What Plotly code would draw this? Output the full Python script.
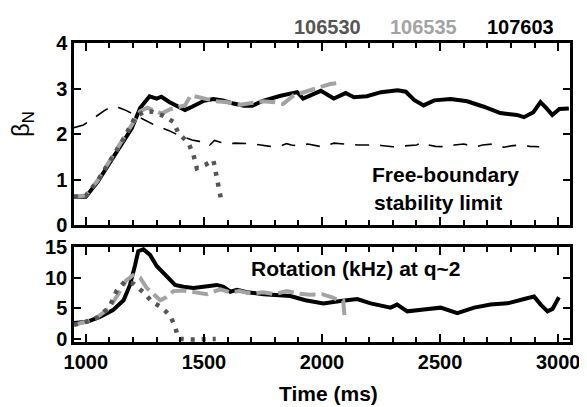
import plotly.graph_objects as go

# ---------------- data ----------------
# Top panel: beta_N vs time (ms)
t_107603 = [950, 1000, 1050, 1100, 1150, 1195, 1230, 1270, 1300, 1320, 1355, 1385, 1420, 1450, 1500,
            1540, 1580, 1625, 1670, 1705, 1750, 1825, 1895, 1920, 1995, 2050, 2100, 2135, 2190, 2250,
            2320, 2355, 2390, 2430, 2475, 2545, 2615, 2685, 2755, 2825, 2855, 2895, 2925, 2950, 2975,
            3005, 3045]
b_107603 = [0.62, 0.62, 0.95, 1.35, 1.78, 2.13, 2.57, 2.83, 2.78, 2.82, 2.7, 2.63, 2.53, 2.6, 2.73,
            2.77, 2.74, 2.67, 2.62, 2.62, 2.73, 2.84, 2.92, 2.78, 2.95, 2.78, 2.9, 2.81, 2.83, 2.92,
            2.96, 2.93, 2.75, 2.63, 2.74, 2.77, 2.72, 2.6, 2.46, 2.42, 2.37, 2.48, 2.7, 2.57, 2.42,
            2.55, 2.56]

t_106535 = [950, 1000, 1050, 1100, 1150, 1200, 1230, 1260, 1295, 1320, 1360, 1420, 1445, 1500, 1550,
            1600, 1650, 1700, 1750, 1800, 1835, 1880, 1920, 1960, 2000, 2035, 2068]
b_106535 = [0.62, 0.65, 0.98, 1.4, 1.82, 2.25, 2.5, 2.58, 2.5, 2.45, 2.55, 2.63, 2.85, 2.78, 2.72,
            2.7, 2.64, 2.68, 2.72, 2.7, 2.66, 2.85, 2.92, 2.98, 3.05, 3.1, 3.12]

t_106530 = [950, 1000, 1050, 1100, 1150, 1210, 1250, 1280, 1330, 1370, 1392, 1435, 1456, 1470, 1505,
            1540, 1560, 1575]
b_106530 = [0.62, 0.64, 0.97, 1.38, 1.8, 2.38, 2.5, 2.49, 2.4, 2.27, 2.02, 1.8, 1.54, 1.25, 1.32,
            1.43, 0.88, 0.5]

t_limit = [950, 990, 1020, 1050, 1080, 1110, 1140, 1170, 1200, 1230, 1260, 1290, 1320, 1350, 1390,
           1420, 1450, 1480, 1510, 1525, 1545, 1570, 1600, 1630, 1660, 1700, 1740, 1780, 1820, 1850,
           1870, 1900, 1940, 1970, 2000, 2050, 2080, 2110, 2150, 2200, 2250, 2300, 2350, 2400, 2430,
           2450, 2480, 2530, 2560, 2600, 2650, 2680, 2720, 2770, 2800, 2840, 2880, 2920]
b_limit = [2.14, 2.2, 2.3, 2.42, 2.52, 2.6, 2.58, 2.52, 2.44, 2.36, 2.28, 2.2, 2.14, 2.08, 1.98,
           1.92, 1.87, 1.84, 1.84, 1.76, 1.86, 1.82, 1.78, 1.8, 1.8, 1.79, 1.76, 1.73, 1.73, 1.79,
           1.76, 1.74, 1.78, 1.75, 1.72, 1.8, 1.79, 1.77, 1.76, 1.76, 1.75, 1.72, 1.74, 1.76, 1.82,
           1.76, 1.73, 1.72, 1.76, 1.78, 1.72, 1.76, 1.78, 1.71, 1.74, 1.76, 1.73, 1.72]

# Bottom panel: rotation (kHz) at q~2
tr_107603 = [950, 1005, 1060, 1115, 1160, 1187, 1209, 1222, 1244, 1272, 1300, 1343, 1378, 1413, 1456,
             1498, 1555, 1583, 1612, 1640, 1682, 1753, 1824, 1866, 1930, 2006, 2078, 2149, 2206, 2290,
             2318, 2361, 2431, 2502, 2573, 2644, 2714, 2785, 2856, 2898, 2926, 2955, 2976, 3003]
r_107603 = [2.6, 2.8, 3.6, 4.7, 6.3, 8.8, 12.1, 14.3, 14.6, 13.7, 11.9, 10.2, 8.8, 8.5, 8.3,
            8.5, 8.8, 8.5, 7.7, 8.0, 7.6, 7.3, 7.1, 7.0, 6.3, 5.8, 6.2, 6.5, 5.8, 5.1,
            5.6, 4.5, 4.8, 5.1, 4.2, 5.1, 5.6, 5.8, 6.5, 6.9, 5.6, 4.5, 4.9, 6.8]

tr_106535 = [950, 1000, 1050, 1100, 1140, 1170, 1200, 1230, 1258, 1286, 1315, 1340, 1371, 1413, 1456,
             1513, 1570, 1610, 1650, 1700, 1750, 1800, 1850, 1900, 1950, 2000, 2040, 2070, 2090, 2095]
r_106535 = [2.3, 2.8, 3.6, 5.0, 7.5, 9.5, 10.4, 10.0, 8.3, 7.4, 6.3, 6.8, 7.8, 7.9, 7.6,
            7.3, 8.1, 7.6, 7.8, 7.4, 7.6, 7.3, 7.8, 7.4, 7.2, 7.3, 6.8, 6.3, 6.2, 3.9]

tr_106530 = [950, 1000, 1050, 1100, 1130, 1166, 1202, 1244, 1279, 1322, 1357, 1378, 1390, 1400, 1450,
             1500, 1550]
r_106530 = [2.3, 2.8, 3.5, 5.2, 7.8, 9.4, 9.0, 7.6, 6.1, 5.1, 3.8, 2.0, 0.3, 0.0, -0.1, 0.0, 0.0]

shot_labels = ["106530", "106535", "107603"]
shot_colors = ["#555555", "#a3a3a3", "#000000"]

x_ticks = [1000, 1500, 2000, 2500, 3000]
y1_ticks = [0, 1, 2, 3, 4]
y2_ticks = [0, 5, 10, 15]

# ---------------- figure ----------------
FONT = "Liberation Sans, Arial, sans-serif"
C_DARK, C_LIGHT, C_BLACK = shot_colors

fig = go.Figure()

# top panel
fig.add_trace(go.Scatter(x=t_limit, y=b_limit, mode="lines", xaxis="x", yaxis="y",
                         line=dict(color="black", width=1.6, dash="14px,11px")))
fig.add_trace(go.Scatter(x=t_107603, y=b_107603, mode="lines", xaxis="x", yaxis="y",
                         line=dict(color=C_BLACK, width=4)))
fig.add_trace(go.Scatter(x=t_106535, y=b_106535, mode="lines", xaxis="x", yaxis="y",
                         line=dict(color=C_LIGHT, width=4, dash="16px,6px")))
fig.add_trace(go.Scatter(x=t_106530, y=b_106530, mode="lines", xaxis="x", yaxis="y",
                         line=dict(color=C_DARK, width=4.5, dash="4px,7px")))

# bottom panel
fig.add_trace(go.Scatter(x=tr_107603, y=r_107603, mode="lines", xaxis="x2", yaxis="y2",
                         line=dict(color=C_BLACK, width=4)))
fig.add_trace(go.Scatter(x=tr_106535, y=r_106535, mode="lines", xaxis="x2", yaxis="y2",
                         line=dict(color=C_LIGHT, width=4, dash="16px,6px")))
fig.add_trace(go.Scatter(x=tr_106530, y=r_106530, mode="lines", xaxis="x2", yaxis="y2",
                         line=dict(color=C_DARK, width=4.5, dash="4px,7px")))

axis_common = dict(showline=True, linecolor="black", linewidth=2.5, mirror="ticks",
                   ticks="inside", tickcolor="black", showgrid=False, zeroline=False,
                   automargin=False)
x_common = dict(axis_common, range=[950, 3050], tickvals=x_ticks, ticklen=8, tickwidth=2,
                minor=dict(dtick=100, tick0=1000, ticks="inside", ticklen=5, tickwidth=1.5,
                           tickcolor="black", showgrid=False))
TICKFONT = dict(size=20, family=FONT, weight="bold", color="black")

# the page body adds an 8px offset, so the figure is 8px smaller than the window
fig.update_layout(
    width=579, height=399,
    margin=dict(l=66, r=17, t=35, b=65, autoexpand=False),
    paper_bgcolor="white", plot_bgcolor="white",
    showlegend=False,
    font=dict(family=FONT, color="black", size=20, weight="bold"),
    xaxis=dict(x_common, anchor="y", domain=[0, 1], showticklabels=False),
    yaxis=dict(axis_common, anchor="x", domain=[0.391, 1.0], range=[0, 4], tickvals=y1_ticks,
               ticklen=7, tickwidth=2, tickfont=TICKFONT),
    xaxis2=dict(x_common, anchor="y2", domain=[0, 1], tickfont=TICKFONT),
    yaxis2=dict(axis_common, anchor="x2", domain=[0, 0.318], range=[-0.5, 15], tickvals=y2_ticks,
                ticklen=7, tickwidth=2, tickfont=TICKFONT),
)

def px_x(p):
    return (p - 74) / 496.0

def px_y(p):
    return (342 - p) / 299.0

ann = []
for lab, col, cx in zip(shot_labels, shot_colors, [327, 423, 520]):
    ann.append(dict(text=lab, x=px_x(cx), y=px_y(27), xref="paper", yref="paper",
                    showarrow=False, xanchor="center", yanchor="middle",
                    font=dict(size=20, color=col, family=FONT, weight="bold")))
ann.append(dict(text="Free-boundary", x=px_x(445), y=px_y(174), xref="paper", yref="paper",
                showarrow=False, xanchor="center", yanchor="middle",
                font=dict(size=21, family=FONT, weight="bold")))
ann.append(dict(text="stability limit", x=px_x(438), y=px_y(202), xref="paper", yref="paper",
                showarrow=False, xanchor="center", yanchor="middle",
                font=dict(size=21, family=FONT, weight="bold")))
ann.append(dict(text="Rotation (kHz) at q~2", x=px_x(355), y=px_y(268), xref="paper", yref="paper",
                showarrow=False, xanchor="center", yanchor="middle",
                font=dict(size=21, family=FONT, weight="bold")))
ann.append(dict(text="Time (ms)", x=px_x(328), y=px_y(393), xref="paper", yref="paper",
                showarrow=False, xanchor="center", yanchor="middle",
                font=dict(size=21, family=FONT, weight="bold")))
ann.append(dict(text="β<sub>N</sub>", x=px_x(22), y=px_y(124), xref="paper", yref="paper",
                showarrow=False, xanchor="center", yanchor="middle", textangle=-90,
                font=dict(size=24, family=FONT, weight="normal")))
fig.update_layout(annotations=ann)

fig.write_html("out.html")
